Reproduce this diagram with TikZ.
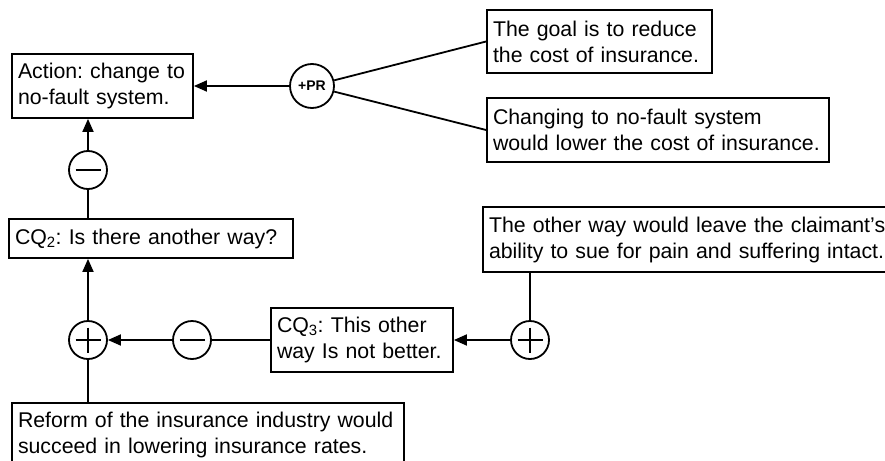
\documentclass[tikz,border=0pt]{standalone}
\usepackage{fontspec}
\setmainfont{Liberation Sans}
\usetikzlibrary{arrows.meta}

\begin{document}
\frenchspacing
\hyphenpenalty=10000
\begin{tikzpicture}[x=1pt, y=-1pt,
    box/.style={rectangle, draw, line width=1.8pt, inner xsep=6pt, inner ysep=0pt, align=left, font=\fontsize{21.3}{26}\selectfont},
    sign/.style={circle, draw, line width=1.8pt, minimum size=38pt, inner sep=0pt},
    pluscirc/.style={sign, path picture={
        \draw[line width=2.6pt, shorten <=6.5pt, shorten >=6.5pt] (path picture bounding box.west) -- (path picture bounding box.east);
        \draw[line width=2.6pt, shorten <=6.5pt, shorten >=6.5pt] (path picture bounding box.north) -- (path picture bounding box.south);}},
    minuscirc/.style={sign, path picture={
        \draw[line width=2.6pt, shorten <=6.5pt, shorten >=6.5pt] (path picture bounding box.west) -- (path picture bounding box.east);}},
    arrow/.style={-{Triangle[length=13pt, width=11pt]}, line width=1.8pt},
    link/.style={line width=1.8pt}
]
    \useasboundingbox (0,0) rectangle (885,460);

    % statements
    \node[box, text width=169pt, minimum height=64pt] (act) at (102.5,86) {Action: change to\\no-fault system.};
    \node[box, text width=213pt, minimum height=63pt] (goal) at (599.5,41.5) {The goal is to reduce\\the cost of insurance.};
    \node[box, text width=330pt, minimum height=64pt] (chg) at (658,130) {Changing to no-fault system\\would lower the cost of insurance.};
    \node[box, text width=272pt, minimum height=39pt] (cq2) at (151,238.5) {CQ\textsubscript{2}: Is there another way?};
    \node[box, text width=170pt, minimum height=64pt] (cq3) at (362,340) {CQ\textsubscript{3}: This other\\way Is not better.};
    \node[box, text width=402pt, minimum height=65pt] (other) at (690,239.5) {The other way would leave the claimant’s\\ability to sue for pain and suffering intact.};
    \node[box, text width=380pt, minimum height=64pt] (reform) at (208,435) {Reform of the insurance industry would\\succeed in lowering insurance rates.};

    % connectors
    \node[sign, minimum size=44pt, font=\fontsize{14}{14}\selectfont\bfseries] (pr) at (312,86) {+PR};
    \node[minuscirc] (m1) at (88,170) {};
    \node[pluscirc] (p1) at (88,340) {};
    \node[minuscirc] (m2) at (192,340) {};
    \node[pluscirc] (p2) at (530,340) {};

    \draw[arrow] (pr) -- (act);
    \draw[link] (pr) -- (goal.west);
    \draw[link] (pr) -- (chg.west);
    \draw[arrow] (m1) -- (m1 |- act.south);
    \draw[link] (cq2.north -| m1) -- (m1);
    \draw[arrow] (p1) -- (p1 |- cq2.south);
    \draw[link] (reform.north -| p1) -- (p1);
    \draw[arrow] (m2) -- (p1);
    \draw[link] (cq3) -- (m2);
    \draw[arrow] (p2) -- (cq3);
    \draw[link] (other.south -| p2) -- (p2);
\end{tikzpicture}
\end{document}
